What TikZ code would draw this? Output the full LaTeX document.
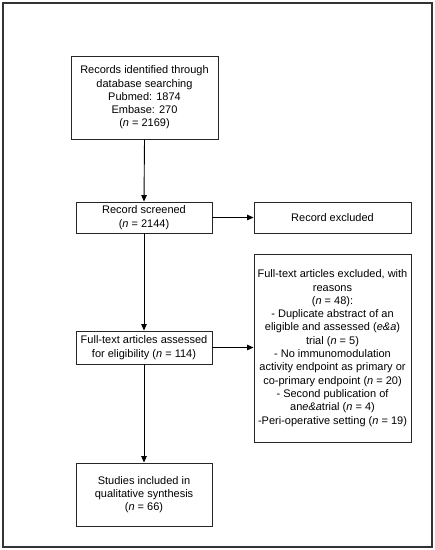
\documentclass[tikz,border=0pt]{standalone}
\usepackage{fontspec}
\setmainfont{Liberation Sans}
\usetikzlibrary{arrows.meta}
\begin{document}
\begin{tikzpicture}[x=1pt,y=-1pt,
  box/.style={draw=black!85,line width=0.9pt,align=center,inner sep=1pt,
    font=\fontsize{11}{13.3}\selectfont},
  arr/.style={draw=black,line width=0.9pt,-{Triangle[length=6.5pt,width=5.5pt]}}]
\useasboundingbox (0,0) rectangle (435,550);
\draw[black!80,line width=1.2pt] (3,3) rectangle (432,547);
\node[box,minimum width=147pt,minimum height=83pt] (rec) at (144.5,97.5)
  {Records identified through\\database searching\\Pubmed: 1874\\Embase: 270\\(\textit{n} = 2169)};
\node[box,minimum width=136pt,minimum height=31pt] (scr) at (144,217.5)
  {Record screened\\(\textit{n} = 2144)};
\node[box,minimum width=157pt,minimum height=31pt] (exc) at (332.5,217.5)
  {Record excluded};
\node[box,minimum width=136pt,minimum height=33pt] (ful) at (144,347.5)
  {Full-text articles assessed\\for eligibility (\textit{n} = 114)};
\node[box,minimum width=157pt,minimum height=188pt] (fex) at (332.5,348)
  {Full-text articles excluded, with\\reasons\\(\textit{n} = 48):\\- Duplicate abstract of an\\eligible and assessed (\textit{e\&a})\\trial (\textit{n} = 5)\\- No immunomodulation\\activity endpoint as primary or\\co-primary endpoint (\textit{n} = 20)\\- Second publication of\\an\textit{e\&a}trial (\textit{n} = 4)\\-Peri-operative setting (\textit{n} = 19)};
\node[box,minimum width=136pt,minimum height=63pt] (inc) at (144,494.5)
  {Studies included in\\qualitative synthesis\\(\textit{n} = 66)};
\draw[arr] (rec.south) -- (scr.north);
\draw[arr] (scr.south) -- (ful.north);
\draw[arr] (ful.south) -- (inc.north);
\draw[arr] (scr.east) -- (exc.west);
\draw[arr] (ful.east) -- (ful.east -| fex.west);
\end{tikzpicture}
\end{document}
